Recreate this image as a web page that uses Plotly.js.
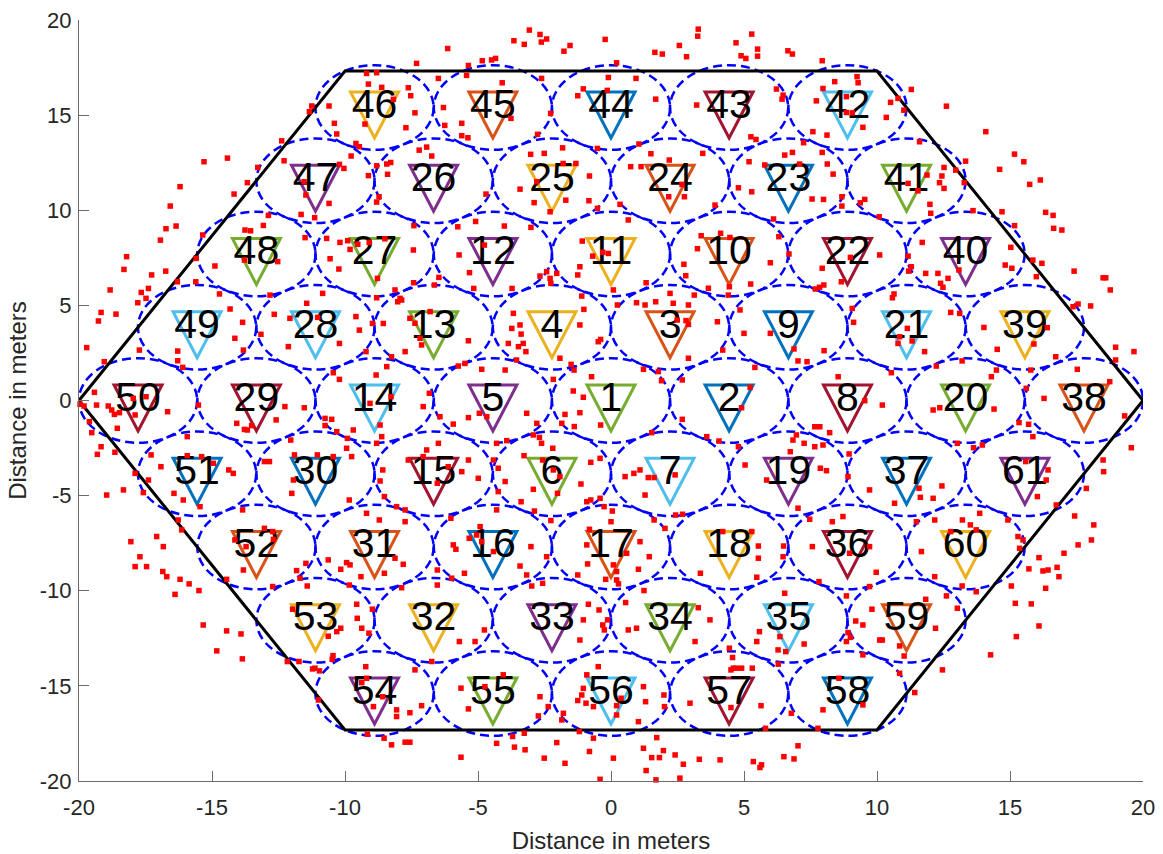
<!DOCTYPE html>
<html>
<head>
<meta charset="utf-8">
<script src="https://cdn.plot.ly/plotly-3.0.1.min.js"></script>
<style>html,body{margin:0;padding:0;background:#fff;}#chart{width:1163px;height:854px;}</style>
</head>
<body>
<div id="chart"></div>
<script>
// ---- Cell (base station) centres, in order of cell number 1..61 ----
const cellLabels = ['1','2','3','4','5','6','7','8','9','10','11','12','13','14','15','16','17','18','19','20',
  '21','22','23','24','25','26','27','28','29','30','31','32','33','34','35','36','37','38','39','40',
  '41','42','43','44','45','46','47','48','49','50','51','52','53','54','55','56','57','58','59','60','61'];
const cellX = [0, 4.44, 2.22, -2.22, -4.44, -2.22, 2.22, 8.89, 6.67, 4.44,
  0, -4.44, -6.67, -8.89, -6.67, -4.44, 0, 4.44, 6.67, 13.33,
  11.11, 8.89, 6.67, 2.22, -2.22, -6.67, -8.89, -11.11, -13.33, -11.11,
  -8.89, -6.67, -2.22, 2.22, 6.67, 8.89, 11.11, 17.78, 15.56, 13.33,
  11.11, 8.89, 4.44, 0, -4.44, -8.89, -11.11, -13.33, -15.56, -17.78,
  -15.56, -13.33, -11.11, -8.89, -4.44, 0, 4.44, 8.89, 11.11, 13.33, 15.56];
const cellY = [0, 0, 3.85, 3.85, 0, -3.85, -3.85, 0, 3.85, 7.70,
  7.70, 7.70, 3.85, 0, -3.85, -7.70, -7.70, -7.70, -3.85, 0,
  3.85, 7.70, 11.55, 11.55, 11.55, 11.55, 7.70, 3.85, 0, -3.85,
  -7.70, -11.55, -11.55, -11.55, -11.55, -7.70, -3.85, 0, 3.85, 7.70,
  11.55, 15.40, 15.40, 15.40, 15.40, 15.40, 11.55, 7.70, 3.85, 0,
  -3.85, -7.70, -11.55, -15.40, -15.40, -15.40, -15.40, -15.40, -11.55, -7.70, -3.85];

// ---- Outer hexagon boundary ----
const hexX = [-20, -10, 10, 20, 10, -10, -20];
const hexY = [0, 17.32, 17.32, 0, -17.32, -17.32, 0];

// ---- Axis ticks ----
const xTicks = [-20, -15, -10, -5, 0, 5, 10, 15, 20];
const yTicks = [-20, -15, -10, -5, 0, 5, 10, 15, 20];

// ---- User positions (red squares) ----
const usersX = [
-9.19,-8.81,-9.12,-8.62,-8.18,-11.25,-11.34,-10.6,-10.4,-9.25,-10.31,-9.59,-9.46,-12.38,-9.77,-8.81,-8.43,-8.28,-8.4,-9.12,
-10.21,-10.04,-12.29,-13.28,-13.67,-14.17,-11.54,-11.47,-10.6,-8.81,-8.72,-11.65,-11.14,-12.88,-13.07,-13.76,-13.55,-15.35,-11.5,-10.69,
-10.19,-9.9,-9.81,-9.52,-9.09,-8.5,-10.56,-10.23,-8.78,-12.53,-13.78,-14.89,-15.6,-15.61,-16.3,-14.72,-12.82,-10.84,-8.81,-15.3,
-14.42,-16.2,-16.57,-16.73,-16.35,-16.94,-17.27,-17.66,-17.39,-16.74,-18.21,-18.31,-18.83,
-0.23,-0.22,-3.07,-2.67,-2.42,-2.62,-3.26,-3.65,-1.54,-1.77,-6.14,-7.31,-5.36,-4.84,-4.49,-4.34,0.21,1.65,1.93,2.57,
2.84,3.28,3.26,5.29,4.7,5.51,5.51,4.89,5.07,-6.49,-5.43,-4.09,-2.61,-0.1,0.94,-0.14,-1.04,-1.25,1.68,3.22,
-7.62,-7.53,-7.37,-7.71,-6.3,-6.25,-5.61,-5.61,-5.38,-3.76,-2.76,-2.27,-1.82,-0.51,1.05,1.5,3.45,5.26,5.45,5.19,
-6.93,-6.74,-7.21,-3.02,-2.51,-1.8,-1.32,-2.79,-3.42,-2.89,-2.29,-1.7,-0.81,-0.83,-0.51,0.34,0.74,1.13,2.19,2.67,
2.76,2.17,3.91,4.79,5.29,-4.7,-5.09,-4.01,-5.76,-7.41,-7.43,-5.71,-5.32,-4.76,-6.64,-6.47,-7.42,-5.16,-7.93,-3.01,
-3.72,-2.67,-2.42,-2.29,-2.04,-2.26,-1.08,-1.17,-0.69,-0.31,-0.1,-1.25,-1.1,0.65,1.32,2.22,2.81,2.74,3.25,4.47,
5.25,3.13,4.12,3.39,
6.65,6.82,7.94,8.41,9.25,9.29,7.97,6.22,6.43,6.47,7.72,8.85,9.47,8.85,9.07,10.35,10.51,10.79,11.29,11.01,
12.61,14.09,7.59,8.12,7.24,7.94,6.82,6.53,8.13,8.35,7.09,5.78,7.56,7.99,8.68,9.37,9.54,11.6,11.17,11.54,
11.88,12.52,12.44,12.35,12.52,12.96,13.33,13.28,11.99,12.02,13.61,14.7,15.17,14.61,15.17,15.52,15.74,16.14,16.34,16.62,
16.64,16.95,6.11,6.31,6.69,5.99,10.1,10.08,8.68,11.7,11.17,11.19,11.83,12.29,12.39,12.48,12.67,13.08,15.03,14.82,
15.07,15.86,16.2,15.99,17.41,18.5,18.6,18.77,7.94,8.0,7.84,7.68,8.66,9.0,10.64,10.58,11.29,
-17.79,-17.48,-19.17,-19.27,-18.61,-19.71,-19.05,-17.73,-19.42,-19.34,-19.96,-19.81,-18.9,-18.77,-18.67,-18.48,-18.56,-17.89,-17.96,-17.48,
-16.67,-16.29,-16.29,-16.1,-14.32,-13.85,-14.14,-13.82,-13.16,-12.66,-12.07,-12.13,-11.44,-11.03,-10.21,-9.59,-9.46,-8.97,-8.56,-8.02,
-8.12,-9.21,-10.44,-10.21,-8.83,-9.06,-8.27,-8.68,-10.75,-10.75,-10.5,-10.31,-9.91,-9.69,-9.94,-8.81,-12.26,-12.04,-11.53,-12.59,
-13.51,-13.78,-13.67,-14.07,-15.93,-15.51,-15.93,-15.39,-14.95,-15.45,-16.08,-16.43,-16.92,-17.29,-17.39,-17.89,-18.33,-18.96,-18.65,-19.17,
-19.31,-19.52,-19.61,-17.58,-16.27,-16.14,-16.83,-17.08,-16.7,-16.2,-17.71,-17.89,-18.05,-17.46,-14.2,-14.37,-12.84,-13.03,-11.9,-11.94,
-12.0,-11.04,-10.44,-9.75,-8.68,-8.52,-9.84,-9.19,-8.71,-13.85,-13.03,-12.72,-12.69,-14.14,-13.72,-13.82,-10.63,-10.16,-9.94,-9.81,
-9.4,-11.47,-11.69,-8.06,
-7.87,-7.56,-6.8,-7.37,-7.18,-7.12,-7.74,-8.25,-5.36,-3.67,-3.73,-3.42,-3.38,-3.3,-3.48,-3.86,-3.2,-3.55,-4.86,-3.98,
-5.74,-5.49,-1.17,-1.92,-2.17,-1.5,-1.39,-1.02,-0.39,-0.48,0.09,0.24,0.96,1.28,1.68,2.34,2.91,2.49,2.82,2.91,
3.66,4.0,4.2,5.0,4.85,5.41,1.22,1.78,1.9,2.68,2.91,4.41,4.45,5.23,4.91,-0.73,-1.42,-1.04,-1.17,-1.73,
-1.85,-1.38,-0.39,-3.17,-2.79,-2.92,-2.69,-2.61,-3.27,-2.19,-2.57,-2.17,-1.92,-2.92,-3.38,-2.88,-2.01,-0.76,-0.41,-0.91,
-0.76,-0.41,-0.26,0.05,0.0,-1.13,0.53,0.86,1.09,1.4,1.62,1.28,2.41,2.69,1.62,2.43,1.53,2.68,3.6,4.06,
5.04,5.85,4.79,4.2,5.54,5.54,5.48,3.36,5.29,2.03,1.09,0.59,1.44,0.09,0.21,-0.81,-0.91,-0.88,-1.25,-2.26,
-2.42,-3.01,-3.42,-4.42,-4.92,-5.05,-5.33,-4.86,-5.93,-5.83,-5.51,-5.99,-6.53,-7.74,-7.81,-8.12,-8.52,-7.06,-5.93,-6.83,
-6.43,-5.36,-4.95,-4.67,-3.92,-4.3,-4.42,-4.24,-3.98,-4.24,-4.3,-4.99,-5.36,-6.02,-6.49,-6.93,-7.06,-7.62,-8.58,-7.74,
-6.53,-5.61,-6.12,-8.62,-8.43,
9.07,9.12,10.54,12.23,12.77,13.11,13.2,14.02,14.52,14.3,14.49,14.4,15.61,15.78,15.9,16.4,16.28,16.72,17.37,17.56,
18.03,18.97,19.66,18.97,18.75,17.53,19.31,19.56,18.5,18.52,17.87,17.43,18.15,18.06,17.56,17.03,16.09,16.24,16.43,16.77,
16.84,16.74,16.43,16.03,16.36,15.59,15.7,15.86,15.34,13.63,13.96,13.02,12.11,12.36,11.14,10.85,10.79,11.32,11.79,5.99,
6.88,7.03,7.37,8.01,8.54,9.54,10.2,7.66,7.85,8.22,7.26,6.84,7.97,7.66,6.97,6.74,7.87,8.1,8.95,8.91,
9.72,10.66,11.63,12.11,12.44,11.58,8.72,8.32,7.03,7.47,6.49,6.47,7.57,9.72,8.97,11.67,12.17,12.77,13.21,13.51,
13.73,13.86,14.92,15.3,15.49,15.36,12.17,11.48,
-16.85,-15.86,-15.49,-16.39,-14.45,-15.33,-14.45,-13.91,-14.82,-13.86,-12.17,-11.97,-12.72,-11.82,-11.42,-9.84,-9.56,-9.54,-9.37,-9.1,
-8.97,-10.16,-10.31,-10.63,-10.45,-10.48,-11.73,-11.13,-10.96,-11.22,-9.22,-9.19,-9.37,-8.93,-8.58,-8.06,-8.06,-11.0,-9.16,-8.53,
-8.25,
-6.53,-7.87,-3.17,-2.98,-2.57,0.21,0.28,-0.2,1.03,1.24,0.55,-0.85,-0.45,-0.13,-0.31,-0.25,-1.04,-1.17,0.65,0.96,
3.28,3.72,3.16,5.58,5.48,6.35,4.45,4.57,4.6,4.72,4.91,4.51,5.31,6.29,-5.7,-5.11,-4.76,-6.74,-7.37,-4.05,
-4.74,-5.64,-5.36,-7.12,-7.56,-7.74,-7.56,-5.64,-4.3,-3.7,-3.63,-3.23,-3.26,-2.67,-2.36,-2.73,-2.51,-1.79,-1.85,-2.04,
-1.73,-1.19,-0.91,-0.48,-1.04,-1.1,-1.25,-0.94,-0.66,0.21,0.38,0.21,-0.66,-0.81,-0.41,0.09,1.22,1.3,1.99,2.01,
1.22,1.53,1.82,1.97,1.32,1.69,2.41,2.72,3.32,4.1,2.59,4.51,5.64,2.97,5.81,5.35,5.66,5.6,1.72,1.03,
6.53,7.82,8.85,9.97,9.72,9.81,9.2,9.47,8.91,9.0,8.85,9.47,10.1,10.2,10.85,11.02,10.85,12.2,12.46,11.42,
11.83,12.61,13.02,13.2,13.73,7.26,6.28,6.57,6.78,7.97,8.57,9.47,7.78,7.03,6.5,6.88,15.05,15.2,15.8,16.34,
16.09,15.24,14.27,15.71
];
const usersY = [
17.19,17.23,16.63,16.46,15.83,15.48,15.18,15.48,14.57,14.53,14.01,13.51,13.34,13.65,12.85,12.34,12.43,12.51,11.89,11.82,
12.41,12.2,12.6,12.25,11.45,10.85,11.5,10.8,10.36,10.43,10.71,9.78,9.61,9.73,9.2,8.96,8.92,8.7,8.56,8.52,
8.31,8.4,7.94,8.21,8.31,8.5,7.45,6.91,6.42,7.3,7.38,7.07,7.47,6.24,6.24,5.6,5.54,5.63,5.4,12.55,
12.74,11.24,10.22,9.03,9.17,8.43,6.6,5.68,5.89,6.8,7.56,6.89,5.81,
20.03,18.98,19.47,19.24,19.0,18.84,18.72,18.91,18.66,18.36,18.5,17.72,17.61,17.86,17.9,17.98,17.75,18.3,18.21,18.66,
18.07,19.52,19.15,19.26,18.8,18.47,18.1,18.12,17.98,16.93,17.09,16.7,16.93,16.98,16.93,16.3,16.38,16.02,15.84,15.53,
16.44,16.02,15.12,14.34,15.4,14.46,14.57,13.92,13.81,14.83,13.99,15.09,13.28,13.25,13.48,12.97,12.99,13.86,13.72,12.55,
13.32,12.85,13.16,12.94,12.99,12.46,12.46,11.5,11.11,10.4,9.92,10.53,11.8,10.5,10.1,10.31,12.29,12.29,12.64,11.36,
10.71,10.71,10.27,11.18,10.97,10.85,9.41,9.17,9.13,9.19,7.91,7.65,6.72,8.17,6.07,6.47,6.19,5.89,5.37,9.1,
5.89,6.54,6.77,6.42,6.68,6.16,8.38,7.03,7.59,7.79,7.73,6.6,5.49,9.49,6.19,5.63,6.56,7.16,7.98,8.57,
6.12,5.54,8.79,8.66,
18.38,18.21,17.86,16.76,17.02,16.7,16.4,16.37,15.84,16.05,15.75,15.97,14.36,15.14,15.12,14.88,15.67,15.88,16.35,15.26,
15.47,14.13,14.13,13.95,13.55,13.04,13.04,12.9,12.43,11.9,12.43,12.38,10.59,10.57,10.22,10.39,10.57,13.6,11.41,11.02,
11.85,12.25,11.8,11.45,11.15,12.11,12.58,11.45,10.31,9.84,9.98,9.92,9.19,12.15,12.95,12.55,11.36,11.59,9.89,9.73,
9.05,8.96,9.54,8.61,7.7,7.24,7.65,9.66,10.71,8.31,7.59,6.8,6.68,6.68,6.16,5.95,6.42,6.86,8.05,7.12,
6.95,7.38,7.21,6.51,6.8,6.45,6.45,5.81,6.95,6.07,5.95,5.86,6.24,7.52,5.6,5.4,7.03,
5.14,5.37,4.63,4.18,4.54,2.78,2.04,2.65,0.43,-0.24,-0.2,-0.29,-0.29,-0.5,-0.73,-0.64,-1.46,-0.76,0.11,0.2,
-0.59,2.6,2.09,1.74,4.81,4.11,3.27,2.65,3.48,4.53,4.32,2.83,5.11,4.37,3.0,4.41,3.7,4.05,4.05,5.19,
5.81,2.57,1.46,1.11,1.34,-0.15,0.2,-1.29,-0.94,-1.32,-0.99,-1.64,-1.99,-1.55,-2.51,-2.25,-0.32,-2.08,-0.38,-1.02,
-1.32,-1.52,-1.55,-1.2,-1.9,-0.24,-2.9,-2.95,-3.3,-5.58,-5.23,-4.88,-3.48,-2.86,-4.18,-3.83,-4.7,-4.97,-2.72,-2.43,
-2.83,-1.69,-1.11,-4.84,-6.28,-6.8,-7.68,-7.15,-9.26,-9.4,-8.21,-8.73,-7.42,-8.73,-3.83,-3.65,-3.21,-3.21,-2.86,-4.18,
-4.88,-2.86,-2.95,-2.95,-4.23,-5.05,-5.23,-5.93,-6.28,-5.75,-6.72,-6.89,-7.3,-7.33,-7.68,-8.91,-8.38,-8.87,-8.52,-8.64,
-9.26,-8.56,-9.34,-5.58,
5.28,4.32,4.67,4.06,3.27,2.92,2.57,2.3,3.14,4.58,3.79,3.97,3.49,3.0,2.83,3.0,2.57,2.13,1.64,1.6,
1.81,1.95,3.97,2.22,1.11,1.9,1.6,4.79,3.21,3.09,5.81,5.02,5.14,5.02,5.19,5.11,5.02,4.23,4.2,4.0,
5.9,4.14,2.65,3.53,4.76,1.74,1.64,1.52,1.04,1.08,2.22,5.54,5.98,0.69,-0.38,1.25,0.5,0.17,-0.64,-0.73,
-1.2,-1.37,-1.29,-0.67,-1.2,-1.81,-1.94,-2.25,-2.9,-2.51,-3.13,-3.65,-4.0,-4.67,-5.32,-5.81,-4.88,-3.25,-3.04,-5.32,
-5.23,-5.14,-5.58,-5.81,-6.37,-4.39,-4.0,-3.83,-3.65,-4.05,-4.05,-4.97,-3.91,-5.98,-6.28,-6.02,-1.69,-0.99,-1.9,-2.13,
-3.39,-4.18,-2.43,-6.89,-7.65,-8.29,-9.29,-9.08,-6.89,-6.72,-7.42,-8.03,-8.21,-8.64,-8.99,-6.77,-7.59,-8.59,-9.17,-6.31,
-8.21,-7.68,-8.7,-7.94,-6.63,-7.07,-7.24,-7.42,-7.59,-7.82,-9.08,-9.34,-8.91,-6.37,-8.61,-8.29,-9.08,-0.32,-1.24,0.38,
-0.85,-0.9,-0.67,-0.85,-2.11,-2.25,-3.13,-3.56,-4.26,-4.79,-5.75,-4.09,-3.13,-6.19,-2.25,-2.6,-2.95,-3.13,-3.65,-5.75,
-4.35,-3.74,-3.48,-1.9,1.78,
4.84,4.11,1.46,1.81,4.63,4.58,2.08,3.84,2.69,1.25,1.6,-0.45,0.64,1.6,2.97,3.83,0.11,2.3,4.93,5.07,
4.97,2.8,2.57,2.13,0.99,1.64,-0.81,-2.48,-3.13,-3.74,-4.62,-6.07,-6.54,-7.33,-7.59,-8.03,-8.26,-8.96,-8.91,-8.77,
-9.26,-5.49,-3.65,-5.05,-4.18,-3.21,-1.25,-1.9,-1.16,-2.48,-2.34,-2.25,-0.5,-0.38,3.79,3.35,3.0,3.13,2.57,3.53,
2.71,2.08,2.04,2.62,1.25,-0.01,-0.24,-1.38,-1.38,-1.69,-2.25,-2.08,-2.34,-2.43,-1.81,-2.69,-3.56,-3.69,-2.81,-4.0,
-4.7,-5.4,-5.09,-5.14,-4.49,-4.61,-6.1,-6.37,-5.66,-6.24,-7.65,-8.21,-7.68,-7.68,-8.03,-7.94,-6.28,-6.89,-6.28,-6.54,
-6.8,-5.93,-6.28,-7.15,-7.33,-7.77,-9.26,-6.37,
-8.99,-9.64,-9.99,-10.19,-9.4,-11.8,-12.11,-12.27,-13.16,-13.58,-13.72,-10.97,-9.78,-8.94,-9.75,-9.7,-10.71,-11.45,-11.97,-12.23,
-10.97,-11.97,-12.15,-12.39,-13.41,-13.6,-13.72,-14.07,-14.21,-14.11,-13.99,-14.6,-14.83,-16.09,-15.57,-16.26,-16.61,-15.74,-17.54,-17.75,
-18.1,
-9.7,-9.84,-9.17,-9.75,-9.61,-9.43,-9.64,-9.4,-8.87,-9.99,-10.62,-10.71,-11.01,-11.53,-11.8,-12.06,-11.53,-12.59,-12.06,-11.97,
-10.89,-11.53,-12.67,-12.15,-12.67,-12.41,-13.02,-13.51,-14.07,-14.07,-14.07,-14.16,-14.07,-13.86,-12.67,-12.67,-12.06,-13.72,-14.16,-14.42,
-15.04,-15.12,-16.21,-16.04,-16.41,-17.96,-17.96,-18.75,-18.02,-17.66,-18.22,-18.36,-17.49,-15.57,-16.09,-16.58,-18.8,-16.44,-16.79,-17.98,
-19.07,-17.4,-14.42,-13.99,-15.13,-15.48,-15.77,-15.91,-16.09,-16.04,-15.65,-16.53,-17.75,-18.45,-19.91,-18.8,-15.04,-15.83,-15.48,-16.09,
-18.28,-18.77,-18.77,-18.4,-19.45,-19.94,-18.63,-19.12,-18.86,-18.89,-19.85,-16.14,-16.04,-15.91,-17.23,-18.98,-19.15,-19.29,-17.72,-16.88,
-10.13,-9.52,-10.27,-9.03,-9.78,-10.97,-11.59,-11.8,-12.2,-12.45,-12.67,-13.37,-12.59,-12.59,-12.9,-13.43,-14.34,-11.97,-14.16,-15.35,
-10.45,-10.27,-10.92,-9.75,-10.05,-12.8,-13.11,-13.2,-16.44,-16.26,-14.6,-16.0,-17.23,-18.15,-18.72,-18.84,-9.75,-10.66,-10.69,-9.87,
-11.85,-12.41,-13.37,-8.85
];

// ---- Styling (not data) ----
const palette = ['#0072BD','#D95319','#EDB120','#7E2F8E','#77AC30','#4DBEEE','#A2142F'];
const cellColor = lbl => { const n = parseInt(lbl, 10); return n === 1 ? '#77AC30' : palette[(n - 2) % 7]; };
const cellRadius = 2.222;
const triPath = 'M-24,15.5 L24,15.5 L0,-30.5 Z';

const shapes = [];
for (let i = 0; i < cellX.length; i++) {
  shapes.push({
    type: 'circle', xref: 'x', yref: 'y', layer: 'below',
    x0: cellX[i] - cellRadius, x1: cellX[i] + cellRadius,
    y0: cellY[i] - cellRadius, y1: cellY[i] + cellRadius,
    line: {color: '#0000FF', width: 2.5, dash: '9px,5px'}
  });
}
for (let i = 0; i < cellX.length; i++) {
  shapes.push({
    type: 'path', xref: 'x', yref: 'y', layer: 'below',
    xsizemode: 'pixel', ysizemode: 'pixel',
    xanchor: cellX[i], yanchor: cellY[i],
    path: triPath,
    line: {color: cellColor(cellLabels[i]), width: 3},
    fillcolor: 'rgba(0,0,0,0)'
  });
}

const traces = [
  {
    x: hexX, y: hexY, type: 'scatter', mode: 'lines',
    line: {color: '#000000', width: 3}, hoverinfo: 'skip'
  },
  {
    x: cellX, y: cellY, type: 'scatter', mode: 'text',
    text: cellLabels, textposition: 'middle center', cliponaxis: false,
    textfont: {family: '"Liberation Sans Narrow", "Arial Narrow", "Liberation Sans", Arial, sans-serif', size: 41, color: '#000000'},
    hoverinfo: 'skip'
  },
  {
    x: usersX, y: usersY, type: 'scatter', mode: 'markers', cliponaxis: false,
    marker: {symbol: 'square', size: 5.5, color: '#FF0000', line: {width: 0}},
    hoverinfo: 'skip'
  }
];

const axisFont = {family: '"Liberation Sans", Arial, sans-serif', size: 22, color: '#262626'};
const titleFont = {family: '"Liberation Sans", Arial, sans-serif', size: 24, color: '#262626'};

const layout = {
  width: 1163, height: 854,
  margin: {l: 79, r: 20, t: 20, b: 73, pad: 0},
  paper_bgcolor: '#ffffff', plot_bgcolor: '#ffffff',
  showlegend: false,
  shapes: shapes,
  xaxis: {
    range: [-20, 20], tickvals: xTicks, ticktext: xTicks.map(String),
    ticks: 'inside', ticklen: 10, tickwidth: 1, tickcolor: '#6b6b6b',
    showline: true, linecolor: '#6b6b6b', linewidth: 1, mirror: false,
    showgrid: false, zeroline: false, tickfont: axisFont, ticklabelstandoff: 7,
    title: {text: 'Distance in meters', font: titleFont, standoff: 16}
  },
  yaxis: {
    range: [-20, 20], tickvals: yTicks, ticktext: yTicks.map(String),
    ticks: 'inside', ticklen: 10, tickwidth: 1, tickcolor: '#6b6b6b',
    showline: true, linecolor: '#6b6b6b', linewidth: 1, mirror: false,
    showgrid: false, zeroline: false, tickfont: axisFont, ticklabelstandoff: 2,
    title: {text: 'Distance in meters', font: titleFont, standoff: 6}
  }
};

Plotly.newPlot('chart', traces, layout, {staticPlot: true, displayModeBar: false});
</script>
</body>
</html>
